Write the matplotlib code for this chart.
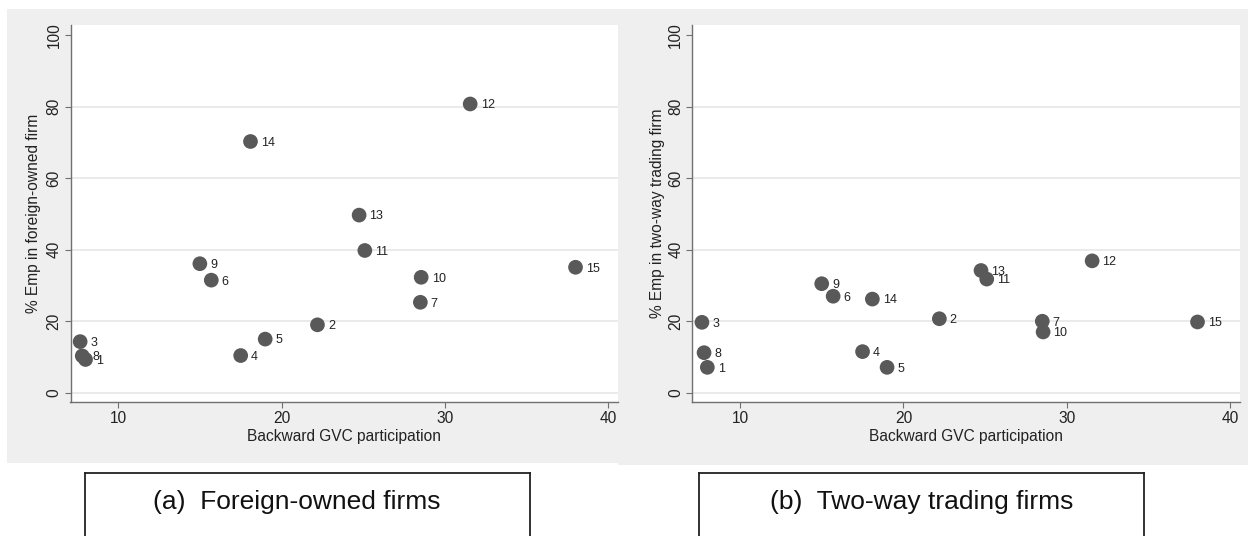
import matplotlib
matplotlib.use("Agg")
import matplotlib.pyplot as plt
from matplotlib.patches import Rectangle
from matplotlib.lines import Line2D

plt.rcParams['font.family'] = ['Liberation Sans', 'DejaVu Sans']

ids = ["1", "2", "3", "4", "5", "6", "7", "8", "9", "10", "11", "12", "13", "14", "15"]
gvc = [8.0, 22.2, 7.67, 17.5, 19.0, 15.7, 28.5, 7.8, 15.0, 28.55, 25.1, 31.55, 24.75, 18.1, 38.0]
emp_foreign = [9.3, 19.0, 14.3, 10.4, 15.0, 31.5, 25.3, 10.3, 36.1, 32.3, 39.8, 80.8, 49.7, 70.3, 35.1]
emp_twoway = [7.1, 20.7, 19.7, 11.5, 7.1, 27.0, 20.0, 11.2, 30.5, 17.0, 31.8, 36.9, 34.2, 26.2, 19.8]
xticks = [10, 20, 30, 40]
yticks = [0, 20, 40, 60, 80, 100]
xlabel = "Backward GVC participation"
ylabels = ["% Emp in foreign-owned firm", "% Emp in two-way trading firm"]
captions = ["(a)  Foreign-owned firms", "(b)  Two-way trading firms"]

W, H = 1248, 536
fig = plt.figure(figsize=(W / 100, H / 100), dpi=100)
fig.patch.set_facecolor("white")

def fx(px):
    return px / W

def fy(py):
    return 1 - py / H

BG = "#efefef"
fig.patches.append(Rectangle((fx(7), fy(463)), fx(618) - fx(7), fy(9) - fy(463),
                             transform=fig.transFigure, facecolor=BG, edgecolor="none", zorder=-5))
fig.patches.append(Rectangle((fx(618), fy(465)), fx(1248) - fx(618), fy(9) - fy(465),
                             transform=fig.transFigure, facecolor=BG, edgecolor="none", zorder=-5))

panels = [
    dict(l=70.5, r=618, ys=emp_foreign, ylab=ylabels[0], labx=33.6),
    dict(l=692.3, r=1240, ys=emp_twoway, ylab=ylabels[1], labx=657.6),
]
top, bot = 25, 402
FS = 11.2

for p in panels:
    ax = fig.add_axes([fx(p["l"]), fy(bot), fx(p["r"]) - fx(p["l"]), fy(top) - fy(bot)])
    ax.set_zorder(2)
    ax.set_facecolor("white")
    ax.set_xlim(7.08, 40.6)
    ax.set_ylim(-2.6, 102.9)
    for s in ["top", "right"]:
        ax.spines[s].set_visible(False)
    for s in ["left", "bottom"]:
        ax.spines[s].set_color("#707070")
        ax.spines[s].set_linewidth(1.0)
    for yv in yticks[:-1]:
        ax.axhline(yv, color="#e6e6e6", lw=1.2, zorder=1)
    ax.scatter(gvc, p["ys"], s=112, color="#595959", edgecolors="none", zorder=3)
    for i, lab in enumerate(ids):
        ax.annotate(lab, (gvc[i], p["ys"][i]), xytext=(7.5, -1), textcoords="offset points",
                    ha="left", va="center", fontsize=9, color="#222222", zorder=4)
    ax.set_xticks(xticks)
    ax.set_yticks(yticks)
    ax.set_xticklabels([str(v) for v in xticks], fontsize=FS, color="#222222")
    ax.set_yticklabels([str(v) for v in yticks], fontsize=FS, color="#222222",
                       rotation=90, va="center")
    ax.tick_params(axis="both", direction="out", length=4, width=0.8, color="#707070", pad=2.5)
    ax.set_xlabel(xlabel, fontsize=FS, color="#222222")
    ax.xaxis.set_label_coords(0.5, (bot - 436.7) / (bot - top), transform=ax.transAxes)
    ax.xaxis.label.set_va("center")
    ax.set_ylabel(p["ylab"], fontsize=FS, color="#222222")
    ax.yaxis.set_label_coords((p["labx"] - p["l"]) / (p["r"] - p["l"]), 0.5, transform=ax.transAxes)
    ax.yaxis.label.set_va("center")

boxes = [(85, 530, 297), (699, 1144, 921.5)]
for (bl, br, tc), cap in zip(boxes, captions):
    for xs, ys in [([bl, br], [473, 473]), ([bl, bl], [473, 540]), ([br, br], [473, 540])]:
        fig.lines.append(Line2D([fx(v) for v in xs], [fy(v) for v in ys],
                                transform=fig.transFigure, color="#222222", lw=1.3))
    fig.text(fx(tc), fy(502), cap, ha="center", va="center", fontsize=19, color="#111111")

fig.savefig("out.png", dpi=100)
